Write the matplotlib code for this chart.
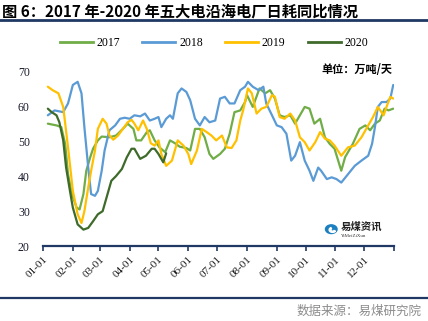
import matplotlib
matplotlib.use('Agg')
import matplotlib.pyplot as plt
from matplotlib.patches import Circle, Wedge
from matplotlib.lines import Line2D

plt.rcParams['font.family'] = ['Liberation Serif', 'Noto Sans CJK SC']

# day of year (0 = 01-01) and daily coal consumption (10k t/day)
days_2017 = [5, 14, 19, 23, 26, 30, 35, 38, 42, 45, 49, 52, 57, 61, 69, 76, 83, 88, 94, 97,
             102, 108, 111, 116, 121, 127, 132, 137, 142, 149, 153, 158, 163, 168, 173, 177,
             184, 189, 194, 199, 205, 210, 212, 218, 225, 231, 236, 241, 246, 251, 257, 262,
             267, 272, 277, 282, 288, 293, 298, 303, 310, 314, 322, 329, 335, 340, 345, 350,
             355, 359, 364]
vals_2017 = [55.1, 54.6, 54.1, 49.3, 40.6, 34.9, 31.0, 30.5, 34.9, 41.6, 45.4, 47.9, 50.3, 51.4,
             51.2, 51.7, 53.6, 55.1, 53.6, 50.3, 50.3, 52.7, 53.2, 50.3, 48.3, 46.9, 50.3, 49.5,
             48.5, 48.1, 47.4, 53.6, 53.6, 51.2, 46.4, 45.0, 46.4, 47.9, 52.2, 58.4, 58.9, 61.3,
             63.3, 59.9, 65.2, 63.8, 64.7, 62.3, 57.5, 57.0, 57.5, 55.1, 57.5, 59.9, 59.4, 55.1,
             56.5, 51.2, 49.3, 47.9, 41.6, 45.5, 49.3, 53.6, 54.6, 53.2, 55.1, 56.0, 59.4, 58.9,
             59.4]

days_2018 = [5, 12, 21, 26, 31, 36, 40, 43, 47, 50, 54, 57, 61, 64, 69, 75, 80, 85, 90, 95,
             101, 106, 111, 116, 120, 123, 128, 132, 135, 140, 144, 149, 153, 158, 163, 168,
             173, 179, 184, 189, 194, 199, 205, 210, 213, 218, 224, 229, 232, 238, 243, 248,
             253, 258, 262, 267, 272, 277, 281, 286, 289, 295, 300, 305, 310, 317, 324, 331,
             338, 342, 345, 348, 352, 357, 361, 364]
vals_2018 = [57.5, 58.9, 58.4, 60.9, 66.2, 67.1, 63.8, 54.1, 42.5, 34.9, 34.4, 35.8, 41.6, 47.4,
             53.2, 54.6, 56.5, 56.8, 56.5, 57.5, 57.2, 58.0, 56.0, 56.5, 57.0, 54.1, 56.5, 57.5,
             56.5, 63.8, 65.2, 64.2, 61.8, 56.5, 54.6, 57.0, 55.5, 56.0, 62.3, 62.8, 60.9, 60.9,
             64.7, 65.7, 67.1, 65.7, 64.7, 65.7, 60.9, 57.5, 54.6, 54.1, 52.2, 44.5, 45.9, 49.8,
             44.5, 41.6, 38.7, 42.5, 41.6, 39.2, 39.7, 39.2, 38.2, 40.6, 43.0, 44.5, 45.9, 49.3,
             54.1, 59.9, 61.3, 61.3, 62.3, 66.2]

days_2019 = [5, 10, 16, 21, 26, 31, 36, 40, 43, 47, 50, 54, 57, 62, 66, 69, 73, 78, 83, 88,
             92, 95, 99, 104, 108, 112, 116, 120, 123, 128, 134, 140, 146, 151, 154, 160, 165,
             170, 175, 180, 186, 191, 196, 201, 205, 208, 213, 217, 222, 227, 232, 238, 241,
             246, 251, 257, 262, 267, 272, 277, 283, 288, 293, 298, 303, 310, 317, 324, 331,
             338, 343, 348, 354, 357, 361, 364]
vals_2019 = [65.7, 64.7, 63.8, 59.9, 48.3, 35.8, 29.1, 26.6, 30.0, 36.8, 41.6, 47.4, 53.6, 56.5,
             55.1, 51.7, 50.5, 51.7, 53.6, 55.5, 56.2, 55.1, 53.2, 56.0, 53.5, 49.5, 48.8, 50.3,
             46.4, 43.0, 44.5, 50.3, 48.8, 46.4, 43.5, 47.4, 53.6, 52.7, 51.7, 50.3, 51.7, 48.3,
             48.1, 50.3, 56.0, 58.9, 65.2, 63.8, 58.0, 59.4, 59.9, 63.3, 62.8, 57.0, 56.5, 58.0,
             56.0, 51.2, 49.8, 47.4, 49.8, 52.7, 50.8, 50.3, 48.8, 45.9, 48.3, 48.8, 51.2, 54.6,
             57.0, 59.9, 57.5, 59.9, 62.8, 62.3]

days_2020 = [5, 9, 14, 17, 21, 24, 28, 31, 36, 42, 47, 52, 57, 62, 68, 71, 76, 82, 87, 92,
             95, 101, 107, 113, 116, 120, 125, 128]
vals_2020 = [59.4, 58.4, 57.5, 55.5, 50.3, 42.5, 35.8, 31.0, 26.2, 24.7, 25.2, 27.1, 29.1, 30.0,
             35.8, 38.7, 40.1, 42.1, 45.4, 47.9, 47.9, 45.0, 45.9, 47.9, 47.9, 46.4, 44.0, 46.6]

month_starts = [0, 31, 59, 90, 120, 151, 181, 212, 243, 273, 304, 334]
month_labels = ['01-01', '02-01', '03-01', '04-01', '05-01', '06-01',
                '07-01', '08-01', '09-01', '10-01', '11-01', '12-01']

series = [('2017', days_2017, vals_2017, '#70AD47'),
          ('2018', days_2018, vals_2018, '#5B9BD5'),
          ('2019', days_2019, vals_2019, '#FFC000'),
          ('2020', days_2020, vals_2020, '#3E6A2A')]

navy = '#1F3864'

fig = plt.figure(figsize=(4.28, 3.21), dpi=100)
ax = fig.add_axes([0.1005, 0.2336, 0.8205, 0.543])

for name, d, v, c in series:
    ax.plot(d, v, color=c, lw=1.6, label=name, solid_capstyle='round', solid_joinstyle='round')

ax.set_xlim(0, 365)
ax.set_ylim(20, 70)
ax.set_yticks([20, 30, 40, 50, 60, 70])
ax.set_xticks(month_starts + [365])
ax.set_xticklabels(month_labels + [''], rotation=45, ha='right', va='top',
                   rotation_mode='anchor', fontsize=8, color='#1a1a1a')
ax.tick_params(axis='x', direction='out', length=3.5, width=1.2, color=navy, pad=3)
ax.tick_params(axis='y', length=0, labelsize=8.5, labelcolor='#1a1a2e', pad=9.5)
for s in ['top', 'right', 'left']:
    ax.spines[s].set_visible(False)
ax.spines['bottom'].set_color(navy)
ax.spines['bottom'].set_linewidth(1.6)

# legend
handles = [Line2D([0], [0], color=c, lw=2) for _, _, _, c in series]
fig.legend(handles, [s[0] for s in series], loc='center', bbox_to_anchor=(0.5, 0.865),
           ncol=4, frameon=False, fontsize=8.5, handlelength=2.8, handletextpad=0.3,
           columnspacing=1.9)

# title and rules
fig.text(0.005, 0.963, '图 6：2017 年-2020 年五大电沿海电厂日耗同比情况',
         family=['Noto Sans CJK SC'], fontweight='bold', fontsize=11, va='center', ha='left')
fig.add_artist(Line2D([0, 1], [0.937, 0.937], color=navy, lw=2))
fig.add_artist(Line2D([0, 1], [0.071, 0.071], color=navy, lw=1.6))
fig.text(0.984, 0.030, '数据来源：易煤研究院', family=['Noto Sans CJK SC'],
         fontsize=9, color='#8c8c8c', ha='right', va='center')
fig.text(0.918, 0.782, '单位：万吨/天', family=['Noto Sans CJK SC'],
         fontweight='bold', fontsize=8, ha='right', va='center')

# watermark logo
fig.add_artist(Circle((0.774, 0.286), 0.0135, transform=fig.transFigure,
                      color='#1C7FC0', zorder=5))
fig.add_artist(Wedge((0.777, 0.284), 0.008, 120, 330, width=0.004,
                     transform=fig.transFigure, color='white', zorder=6))
fig.text(0.795, 0.293, '易煤资讯', family=['Noto Sans CJK SC'], fontweight='bold',
         fontsize=7.5, color='#222222', ha='left', va='center')
fig.text(0.797, 0.265, 'YiMeiZiXun', fontsize=3.5, color='#333333', ha='left', va='center')

fig.savefig('out.png', dpi=100)
